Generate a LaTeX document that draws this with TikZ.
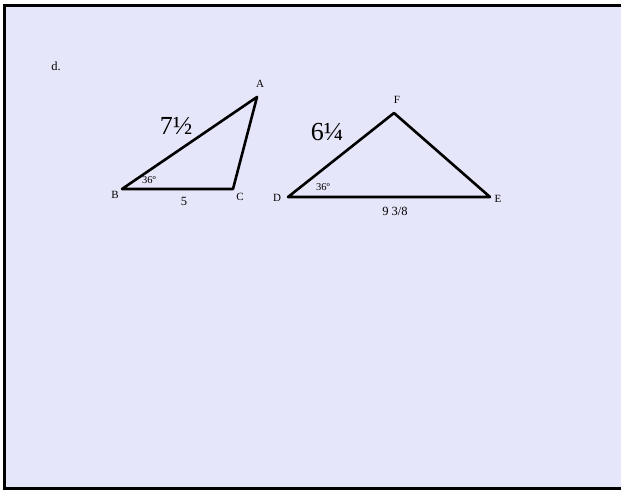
\documentclass[tikz,border=0pt]{standalone}
\usepackage{fontspec}
\setmainfont{Liberation Serif}
\usetikzlibrary{positioning}
\definecolor{pageLav}{HTML}{E6E6FA}

\begin{document}
\begin{tikzpicture}[x=1pt,y=-1pt]
\tikzset{
  rim/.style={draw=black, line width=3pt},
  side/.style={draw=black, line width=2.6pt, line join=round},
  vlab/.style={font=\fontsize{11}{12}\selectfont, inner sep=1pt},
  slab/.style={font=\fontsize{12.5}{14}\selectfont, inner sep=1pt},
  big/.style={font=\fontsize{26}{30}\selectfont, inner sep=1pt},
  ang/.style={font=\fontsize{10.5}{12}\selectfont, inner sep=0.5pt}
}
\useasboundingbox (0,0) rectangle (621,490);
\fill[pageLav] (4.5,5.5) rectangle (621,488.5);
\draw[rim] (630,5.5) -- (4.5,5.5) -- (4.5,488.5) -- (630,488.5);

\node[slab] (part) at (56,66) {d.};

% Triangle ABC
\coordinate (A) at (257,97);
\coordinate (B) at (122,189);
\coordinate (C) at (233,189);
\draw[side] (A) -- (B) -- (C) -- cycle;
\node[vlab] (la) at (260,84) {A};
\node[vlab] (lb) at (115,195) {B};
\node[vlab] (lc) at (240,197) {C};
\node[slab] (bc) at (184,201) {5};
\node[big] (ab) at (176,126) {7½};
\node[ang] (angb) at (149,180) {36º};

% Triangle DEF
\coordinate (F) at (394,113);
\coordinate (D) at (288,197);
\coordinate (E) at (490,197);
\draw[side] (F) -- (D) -- (E) -- cycle;
\node[vlab] (lf) at (397,100) {F};
\node[vlab] (ld) at (277,198) {D};
\node[vlab] (le) at (498,199) {E};
\node[slab] (de) at (395,211) {9 3/8};
\node[big] (df) at (327,132) {6¼};
\node[ang] (angd) at (323,187) {36º};
\end{tikzpicture}
\end{document}
